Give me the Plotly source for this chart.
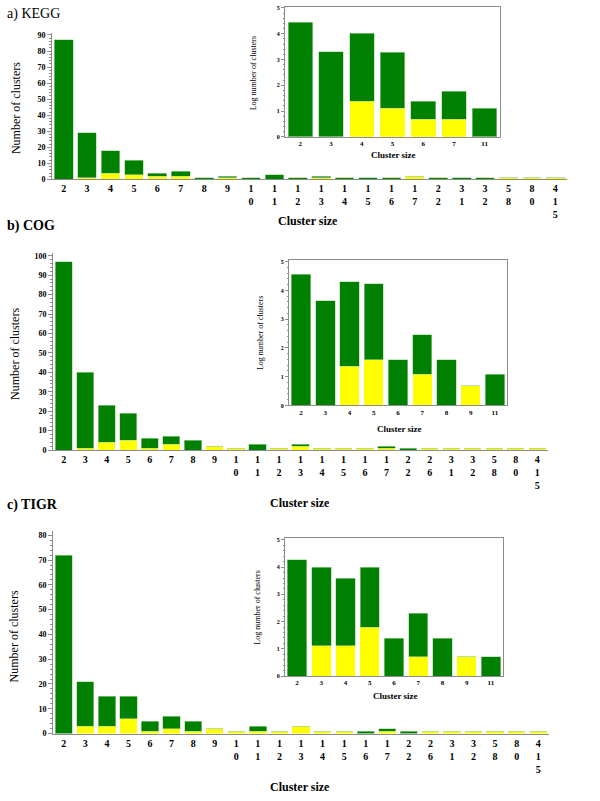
import plotly.graph_objects as go

# ---------------- data ----------------
cats_a = ["2", "3", "4", "5", "6", "7", "8", "9", "10", "11", "12", "13", "14", "15", "16", "17", "22", "31", "32", "58", "80", "415"]
yellow_a = [0, 1, 4, 3, 2, 2, 0, 1, 0, 0, 0, 1, 0, 0, 0, 2, 0, 0, 0, 1, 1, 1]
green_a = [87, 28, 14, 9, 2, 3, 1, 1, 1, 3, 1, 1, 1, 1, 1, 0, 1, 1, 1, 0, 0, 0]

inset_cats_a = ["2", "3", "4", "5", "6", "7", "11"]
inset_yellow_a = [0, 0, 1.38, 1.10, 0.69, 0.69, 0]
inset_green_a = [4.44, 3.31, 2.63, 2.18, 0.69, 1.08, 1.10]

cats_b = ["2", "3", "4", "5", "6", "7", "8", "9", "10", "11", "12", "13", "14", "15", "16", "17", "22", "26", "31", "32", "58", "80", "415"]
yellow_b = [0, 1, 4, 5, 1, 3, 0, 2, 1, 0, 1, 2, 1, 1, 1, 1, 0, 1, 1, 1, 1, 1, 1]
green_b = [97, 39, 19, 14, 5, 4, 5, 0, 0, 3, 0, 1, 0, 0, 0, 1, 1, 0, 0, 0, 0, 0, 0]

inset_cats_b = ["2", "3", "4", "5", "6", "7", "8", "9", "11"]
inset_yellow_b = [0, 0, 1.37, 1.59, 0, 1.09, 0, 0.69, 0]
inset_green_b = [4.57, 3.65, 2.94, 2.65, 1.59, 1.37, 1.59, 0, 1.09]

cats_c = ["2", "3", "4", "5", "6", "7", "8", "9", "10", "11", "12", "13", "14", "15", "16", "17", "22", "26", "31", "32", "58", "80", "415"]
yellow_c = [0, 3, 3, 6, 1, 2, 1, 2, 1, 1, 1, 3, 1, 1, 0, 1, 0, 1, 1, 1, 1, 1, 1]
green_c = [72, 18, 12, 9, 4, 5, 4, 0, 0, 2, 0, 0, 0, 0, 1, 1, 1, 0, 0, 0, 0, 0, 0]

inset_cats_c = ["2", "3", "4", "5", "6", "7", "8", "9", "11"]
inset_yellow_c = [0, 1.11, 1.11, 1.80, 0, 0.70, 0, 0.70, 0]
inset_green_c = [4.28, 2.88, 2.48, 2.19, 1.39, 1.61, 1.39, 0, 0.70]

panel_titles = ["a) KEGG", "b) COG", "c) TIGR"]
y_title_main = "Number of clusters"
y_title_inset = "Log number of clusters"
x_title = "Cluster size"

# ---------------- styling ----------------
W, H = 600, 801
GREEN = "#008000"
YELLOW = "#FFFF00"
AXC = "#8c8c8c"
FONT = "Liberation Serif"


def px(x):
    return x / W


def py(y):
    return 1 - y / H


def stack(s):
    return "<br>".join(list(s))


fig = go.Figure()

panels = [
    dict(cats=cats_a, yel=yellow_a, grn=green_a, xd=(52, 567), yd=(179, 31), ytop=91.4, dtick=10, minor=2,
         icats=inset_cats_a, iyel=inset_yellow_a, igrn=inset_green_a, ixd=(285, 500), iyd=(136, 5), iytop=5.04),
    dict(cats=cats_b, yel=yellow_b, grn=green_b, xd=(53, 548), yd=(452, 253), ytop=101.5, dtick=10, minor=2,
         icats=inset_cats_b, iyel=inset_yellow_b, igrn=inset_green_b, ixd=(289, 507), iyd=(407, 260), iytop=5.07),
    dict(cats=cats_c, yel=yellow_c, grn=green_c, xd=(53, 549), yd=(738, 534), ytop=81.6, dtick=10, minor=2,
         icats=inset_cats_c, iyel=inset_yellow_c, igrn=inset_green_c, ixd=(285, 503), iyd=(680, 541), iytop=5.06),
]

layout_axes = {}
green_edge = dict(color="rgba(170,215,160,1)", width=0.6)
yellow_edge = dict(color=YELLOW, width=0)

for i, p in enumerate(panels):
    mx = 2 * i + 1
    ix = 2 * i + 2
    mxa = "x" if mx == 1 else f"x{mx}"
    mya = "y" if mx == 1 else f"y{mx}"
    ixa = f"x{ix}"
    iya = f"y{ix}"

    fig.add_trace(go.Bar(x=p["cats"], y=p["yel"], marker=dict(color=YELLOW, line=yellow_edge), width=0.8,
                         xaxis=mxa, yaxis=mya, showlegend=False))
    fig.add_trace(go.Bar(x=p["cats"], y=p["grn"], marker=dict(color=GREEN, line=green_edge), width=0.8,
                         xaxis=mxa, yaxis=mya, showlegend=False))
    fig.add_trace(go.Bar(x=p["icats"], y=p["iyel"], marker=dict(color=YELLOW, line=yellow_edge), width=0.8,
                         xaxis=ixa, yaxis=iya, showlegend=False))
    fig.add_trace(go.Bar(x=p["icats"], y=p["igrn"], marker=dict(color=GREEN, line=green_edge), width=0.8,
                         xaxis=ixa, yaxis=iya, showlegend=False))

    n = len(p["cats"])
    k = "xaxis" if mx == 1 else f"xaxis{mx}"
    layout_axes[k] = dict(
        domain=[px(p["xd"][0]), px(p["xd"][1])], anchor=mya, type="category",
        range=[-0.5, n - 0.5], tickvals=p["cats"], ticktext=[stack(c) for c in p["cats"]],
        showline=True, linecolor=AXC, linewidth=1, ticks="", showgrid=False, zeroline=False,
        tickfont=dict(family=FONT, size=10, color="black", weight="bold"), tickangle=0,
    )
    k = "yaxis" if mx == 1 else f"yaxis{mx}"
    layout_axes[k] = dict(
        domain=[py(p["yd"][0]), py(p["yd"][1])], anchor=mxa, range=[0, p["ytop"]],
        dtick=p["dtick"], tick0=0, showline=True, linecolor=AXC, linewidth=1,
        ticks="outside", ticklen=4, tickcolor=AXC, showgrid=False, zeroline=False,
        minor=dict(dtick=p["minor"], ticks="outside", ticklen=2, tickcolor=AXC),
        tickfont=dict(family=FONT, size=8, color="black", weight="bold"),
    )
    ni = len(p["icats"])
    layout_axes[f"xaxis{ix}"] = dict(
        domain=[px(p["ixd"][0]), px(p["ixd"][1])], anchor=iya, type="category",
        range=[-0.5, ni - 0.5], showline=True, mirror=True, linecolor=AXC, linewidth=1,
        ticks="", showgrid=False, zeroline=False,
        tickfont=dict(family=FONT, size=7, color="black", weight="bold"),
    )
    layout_axes[f"yaxis{ix}"] = dict(
        domain=[py(p["iyd"][0]), py(p["iyd"][1])], anchor=ixa, range=[0, p["iytop"]],
        dtick=1, tick0=0, showline=True, mirror=True, linecolor=AXC, linewidth=1,
        ticks="outside", ticklen=3, tickcolor=AXC, showgrid=False, zeroline=False,
        minor=dict(dtick=0.2, ticks="outside", ticklen=1.5, tickcolor=AXC),
        tickfont=dict(family=FONT, size=6, color="black", weight="bold"),
    )

annotations = []


def ann(text, x, y, size, bold=False, angle=0, xanchor="center", yanchor="middle"):
    annotations.append(dict(
        text=text, x=px(x), y=py(y), xref="paper", yref="paper", showarrow=False,
        xanchor=xanchor, yanchor=yanchor, textangle=angle,
        font=dict(family=FONT, size=size, color="black", weight="bold" if bold else "normal"),
    ))


# panel titles
ann(panel_titles[0], 5, 12, 14, bold=False, xanchor="left")
ann(panel_titles[1], 5, 226, 14, bold=True, xanchor="left")
ann(panel_titles[2], 5, 507, 14, bold=True, xanchor="left")

# main axis titles
ann(y_title_main, 16, 107, 12, angle=-90)
ann(y_title_main, 15, 355, 12, angle=-90)
ann(y_title_main, 14, 640, 12, angle=-90)
ann(x_title, 308, 221, 12, bold=True)
ann(x_title, 300, 505, 12, bold=True)
ann(x_title, 300, 792, 12, bold=True)

# inset axis titles
ann(y_title_inset, 253, 72, 8, angle=-90)
ann(y_title_inset, 260, 334, 8, angle=-90)
ann(y_title_inset, 258, 611, 8, angle=-90)
ann(x_title, 393, 154, 9, bold=True)
ann(x_title, 399, 431, 9, bold=True)
ann(x_title, 395, 700, 9, bold=True)

fig.update_layout(
    width=W, height=H, margin=dict(l=0, r=0, t=0, b=0),
    paper_bgcolor="white", plot_bgcolor="white",
    barmode="stack", bargap=0.2, showlegend=False,
    annotations=annotations,
    **layout_axes,
)

fig.write_html(
    "out.html",
    config={"displayModeBar": False},
    post_script="document.body.style.margin='0px';document.body.style.padding='0px';document.body.style.overflow='hidden';",
)
